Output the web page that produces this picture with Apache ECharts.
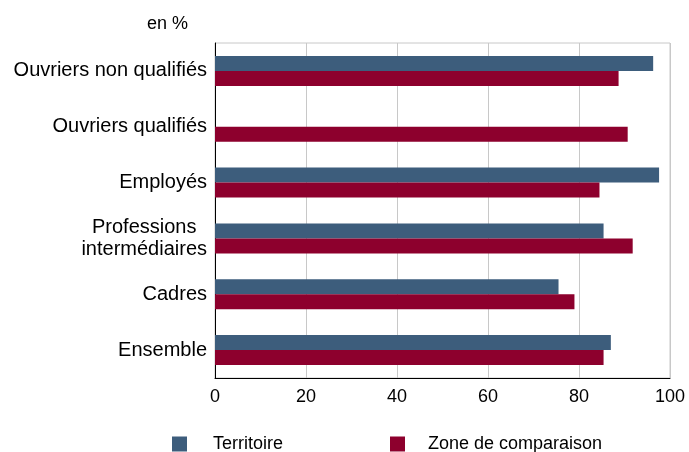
<!DOCTYPE html>
<html>
<head>
<meta charset="utf-8">
<script src="https://cdn.jsdelivr.net/npm/echarts@6/dist/echarts.min.js"></script>
<style>
  html, body { margin: 0; padding: 0; background: #fff; }
  #chart { width: 689px; height: 452px; }
</style>
</head>
<body>
<div id="chart"></div>
<script>
const categories = ['Ouvriers non qualifiés', 'Ouvriers qualifiés', 'Employés', 'Professions\nintermédiaires', 'Cadres', 'Ensemble']
const territoire = [96.3, null, 97.6, 85.4, 75.5, 87.0]
const zoneComparaison = [88.7, 90.7, 84.5, 91.8, 79.0, 85.4]
const xTicks = [0, 20, 40, 60, 80, 100]

const font = 'Liberation Sans, Arial, sans-serif'
const chart = echarts.init(document.getElementById('chart'))

// one legend per series so each item lands where the reference puts it
const legendBase = {
  top: 435, padding: 0,
  itemWidth: 15, itemHeight: 15, icon: 'rect'
}

chart.setOption({
  animation: false,
  textStyle: { fontFamily: font },
  grid: { left: 215, right: 19, top: 43, bottom: 74, show: true, borderColor: '#c8c8c8', borderWidth: 1 },
  graphic: [{
    type: 'text', left: 147, top: 15,
    style: { text: 'en %', font: '18px ' + font, fill: '#000' }
  }],
  legend: [
    { ...legendBase, left: 172, data: ['Territoire'], textStyle: { fontSize: 18, color: '#000', padding: [0, 0, 0, 21] } },
    { ...legendBase, left: 390, data: ['Zone de comparaison'], textStyle: { fontSize: 18, color: '#000', padding: [0, 0, 0, 18] } }
  ],
  xAxis: {
    type: 'value', min: xTicks[0], max: xTicks[xTicks.length - 1], interval: 20,
    axisLine: { show: true, lineStyle: { color: '#000', width: 1 } },
    axisTick: { show: false },
    axisLabel: { fontSize: 18, color: '#000', margin: 10 },
    splitLine: { lineStyle: { color: '#c8c8c8' } }
  },
  yAxis: {
    type: 'category', data: categories, inverse: true,
    axisLine: { show: true, lineStyle: { color: '#000', width: 1 } },
    axisTick: { show: false },
    axisLabel: {
      color: '#000', margin: 8, align: 'right',
      formatter: v => v.split('\n').map(l => '{a|' + l + '}').join('\n'),
      rich: { a: { fontSize: 20, lineHeight: 22, align: 'center', color: '#000', fontFamily: font } }
    }
  },
  series: [
    { name: 'Territoire', type: 'bar', data: territoire, barWidth: 15, barGap: '0%', itemStyle: { color: '#3d5d7c' } },
    { name: 'Zone de comparaison', type: 'bar', data: zoneComparaison, barWidth: 15, itemStyle: { color: '#8d002d' } }
  ]
})
</script>
</body>
</html>
